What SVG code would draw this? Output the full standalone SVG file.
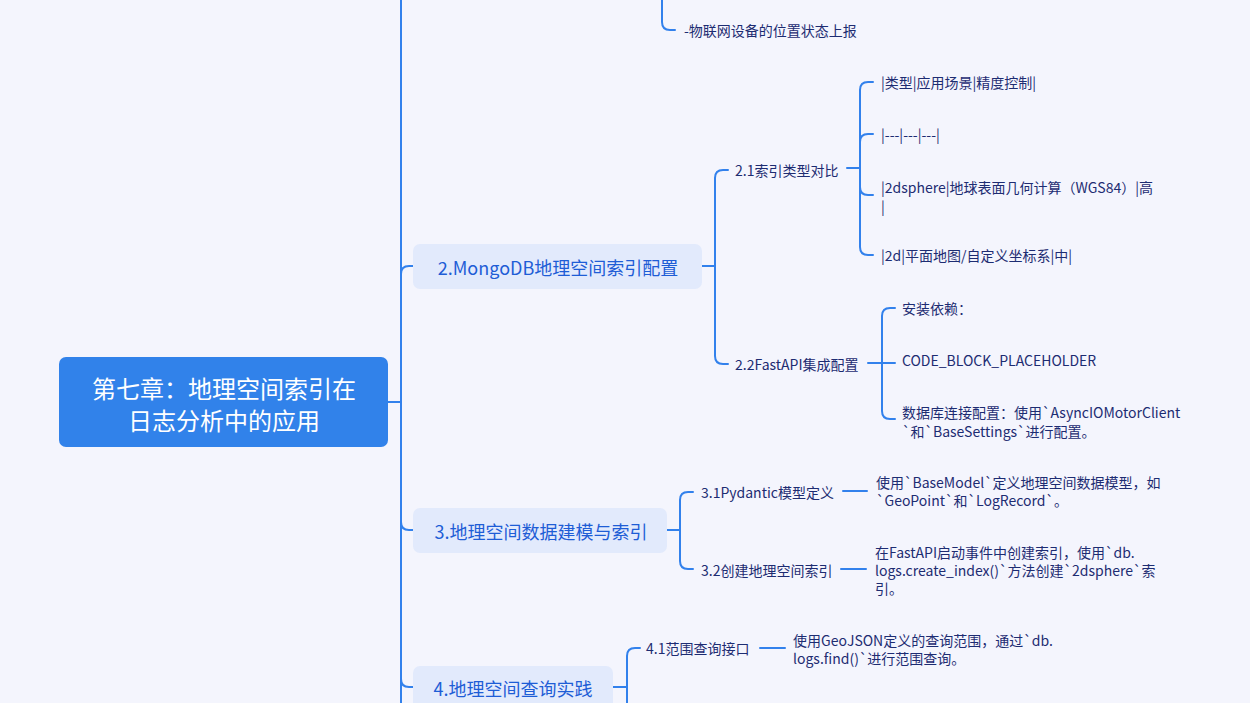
<svg xmlns="http://www.w3.org/2000/svg" width="1250" height="703" viewBox="0 0 1250 703">
<style>
text{font-family:"Noto Sans CJK SC","Noto Sans",sans-serif;dominant-baseline:central}
.c{fill:none;stroke:#3281ec;stroke-width:2;stroke-linecap:round;stroke-linejoin:round}
.root{fill:#3182ea}
.rt{fill:#ffffff;font-size:24px;text-anchor:middle}
.br{fill:#e2eafc}
.bt{fill:#1e5dd6;font-size:18px;text-anchor:middle}
.t{fill:#1d2c72;font-size:14px}
</style>
<rect x="0" y="0" width="1250" height="703" fill="#f4f5fd"/>
<g id="connectors">
<path class="c" d="M401,0 L401,703"/>
<path class="c" d="M388,402 L401,402"/>
<path class="c" d="M662,0 L662,22 Q662,30 670,30 L675,30"/>
<path class="c" d="M401,274 Q401,266 409,266 L413,266"/>
<path class="c" d="M401,522 Q401,530 409,530 L413,530"/>
<path class="c" d="M401,679 Q401,687 409,687 L413,687"/>
<path class="c" d="M701,266 L715,266 M715,266 L715,178 Q715,170 723,170 L728,170 M715,266 L715,356 Q715,364 723,364 L728,364"/>
<path class="c" d="M847,168 L860,168 M860,168 L860,90 Q860,82 868,82 L873,82 M860,168 L860,142 Q860,134 868,134 L873,134 M860,168 L860,187 Q860,195 868,195 L873,195 M860,168 L860,247 Q860,255 868,255 L873,255"/>
<path class="c" d="M868,363 L895,363 M882,363 L882,316 Q882,308 890,308 L895,308 M882,363 L882,411 Q882,419 890,419 L895,419"/>
<path class="c" d="M667,530 L680,530 M680,530 L680,500 Q680,492 688,492 L693,492 M680,530 L680,561 Q680,569 688,569 L693,569"/>
<path class="c" d="M843,491 L867,491"/>
<path class="c" d="M841,569 L866,569"/>
<path class="c" d="M613,687 L627,687 M627,687 L627,656 Q627,648 635,648 L640,648 M627,687 L627,703"/>
<path class="c" d="M760,648 L785,648"/>
</g>
<g id="root">
<rect class="root" x="59" y="357" width="329" height="90" rx="7"/>
<text class="rt" x="224" y="387">第七章：地理空间索引在</text>
<text class="rt" x="224" y="419">日志分析中的应用</text>
</g>
<g id="leaf-iot"><text class="t" x="684" y="30">-物联网设备的位置状态上报</text></g>
<g id="branch2">
<rect class="br" x="413" y="244" width="289" height="45" rx="7"/>
<text class="bt" x="558" y="267">2.MongoDB地理空间索引配置</text>
</g>
<g id="n2-1"><text class="t" x="735" y="170">2.1索引类型对比</text></g>
<g id="n2-1-a"><text class="t" x="881" y="82">|类型|应用场景|精度控制|</text></g>
<g id="n2-1-b"><text class="t" x="881" y="134">|---|---|---|</text></g>
<g id="n2-1-c"><text class="t" x="881" y="187">|2dsphere|地球表面几何计算（WGS84）|高</text><text class="t" x="881" y="206">|</text></g>
<g id="n2-1-d"><text class="t" x="881" y="255">|2d|平面地图/自定义坐标系|中|</text></g>
<g id="n2-2"><text class="t" x="735" y="364">2.2FastAPI集成配置</text></g>
<g id="n2-2-a"><text class="t" x="902" y="308">安装依赖：</text></g>
<g id="n2-2-b"><text class="t" x="902" y="360">CODE_BLOCK_PLACEHOLDER</text></g>
<g id="n2-2-c"><text class="t" x="902" y="412">数据库连接配置：使用`AsyncIOMotorClient</text><text class="t" x="902" y="431">`和`BaseSettings`进行配置。</text></g>
<g id="branch3">
<rect class="br" x="413" y="508" width="254" height="45" rx="7"/>
<text class="bt" x="541" y="531">3.地理空间数据建模与索引</text>
</g>
<g id="n3-1"><text class="t" x="701" y="492">3.1Pydantic模型定义</text></g>
<g id="n3-1-a"><text class="t" x="876" y="482">使用`BaseModel`定义地理空间数据模型，如</text><text class="t" x="876" y="500">`GeoPoint`和`LogRecord`。</text></g>
<g id="n3-2"><text class="t" x="701" y="570">3.2创建地理空间索引</text></g>
<g id="n3-2-a"><text class="t" x="875" y="552">在FastAPI启动事件中创建索引，使用`db.</text><text class="t" x="875" y="570">logs.create_index()`方法创建`2dsphere`索</text><text class="t" x="875" y="588">引。</text></g>
<g id="branch4">
<rect class="br" x="413" y="666" width="200" height="45" rx="7"/>
<text class="bt" x="513" y="688">4.地理空间查询实践</text>
</g>
<g id="n4-1"><text class="t" x="646" y="648">4.1范围查询接口</text></g>
<g id="n4-1-a"><text class="t" x="793" y="640">使用GeoJSON定义的查询范围，通过`db.</text><text class="t" x="793" y="658">logs.find()`进行范围查询。</text></g>
</svg>
